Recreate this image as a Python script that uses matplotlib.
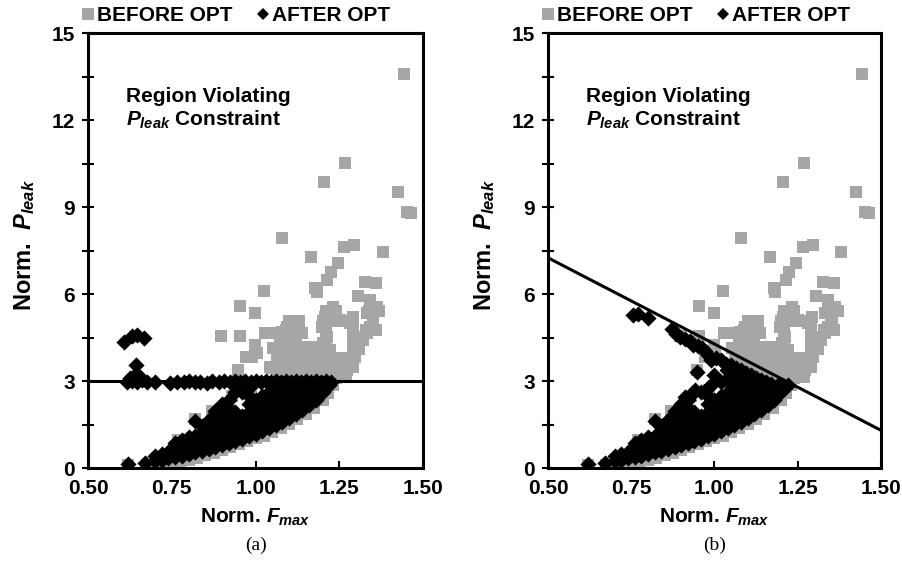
import matplotlib
matplotlib.use("Agg")
import matplotlib.pyplot as plt
from matplotlib.lines import Line2D
import numpy as np

plt.rcParams["font.family"] = "Liberation Sans"
plt.rcParams["font.weight"] = "bold"
plt.rcParams["axes.labelweight"] = "bold"
plt.rcParams["mathtext.fontset"] = "custom"
plt.rcParams["mathtext.it"] = "Liberation Sans:italic:bold"
plt.rcParams["mathtext.rm"] = "Liberation Sans:bold"
plt.rcParams["mathtext.bf"] = "Liberation Sans:bold"

# ---- data (Norm. Fmax, Norm. Pleak) ----
# BEFORE OPT: sparse points above the constraint
before_upper = [
    (1.443, 13.59), (1.268, 10.53), (1.205, 9.85), (1.424, 9.51), (1.452, 8.82), (1.465, 8.78),
    (1.080, 7.94), (1.265, 7.63), (1.295, 7.68), (1.379, 7.46), (1.166, 7.28), (1.246, 7.06),
    (1.224, 6.77), (1.214, 6.48), (1.178, 6.20), (1.182, 6.06), (1.327, 6.43), (1.360, 6.39),
    (1.026, 6.10), (1.305, 5.93), (1.342, 5.79), (1.362, 5.56), (1.232, 5.56), (0.955, 5.57),
    (0.999, 5.33), (1.207, 5.22), (1.292, 5.22), (1.332, 5.33), (1.352, 5.10), (1.342, 4.87),
    (1.332, 4.64), (1.252, 5.10), (1.282, 4.99), (1.123, 4.99), (1.093, 4.87), (1.138, 4.64),
    (1.063, 4.64), (1.028, 4.67), (1.197, 4.87), (1.212, 4.53), (1.202, 4.30), (1.312, 4.53),
    (1.302, 4.18), (1.297, 3.84), (1.282, 3.61), (1.272, 3.38), (1.222, 4.07), (1.222, 3.72),
    (1.153, 4.18), (1.123, 4.07), (1.083, 4.07), (1.063, 3.90), (1.073, 4.36), (1.053, 4.13),
    (1.043, 3.49), (1.063, 3.38), (0.897, 4.55), (0.954, 4.55), (0.999, 4.24), (0.989, 3.84),
    (0.949, 3.38), (1.048, 3.44), (1.128, 4.87), (1.130, 4.68), (1.188, 4.18), (1.003, 3.96),
    (0.973, 3.84), (1.078, 4.70),
]
# BEFORE OPT: dense block above Pleak = 3 (rows of Fmax values at one Pleak)
dense_rows_y = [3.15, 3.47, 3.79, 4.11, 4.43, 4.75, 5.07, 5.40]
dense_rows_x = [
    [1.06, 1.09, 1.12, 1.15, 1.18, 1.21, 1.24, 1.27],
    [1.06, 1.09, 1.12, 1.15, 1.18, 1.21, 1.24, 1.27, 1.29],
    [1.07, 1.10, 1.13, 1.16, 1.19, 1.22, 1.25, 1.28],
    [1.07, 1.10, 1.13, 1.16, 1.19, 1.21, 1.29, 1.31],
    [1.09, 1.12, 1.21, 1.29, 1.32],
    [1.09, 1.12, 1.21, 1.29, 1.33, 1.36],
    [1.10, 1.13, 1.20, 1.23, 1.26, 1.29, 1.35],
    [1.21, 1.24, 1.34, 1.37],
]
# BEFORE OPT: lower edge of the main cloud and a few points hidden under AFTER OPT
before_lower = [
    (0.620, 0.12), (0.675, 0.12), (0.700, 0.10), (0.725, 0.13), (0.750, 0.17), (0.775, 0.22),
    (0.800, 0.28), (0.825, 0.36), (0.850, 0.45), (0.875, 0.53), (0.900, 0.62), (0.925, 0.72),
    (0.950, 0.82), (0.975, 0.93), (1.000, 1.02), (1.025, 1.12), (1.050, 1.24), (1.075, 1.37),
    (1.100, 1.52), (1.125, 1.68), (1.150, 1.86), (1.175, 2.06), (1.200, 2.35), (1.215, 2.60),
    (1.230, 2.85), (1.240, 3.10),
    (0.820, 1.70), (0.870, 1.97), (0.930, 2.48), (0.985, 2.70), (1.050, 2.65), (1.100, 2.62),
    (0.770, 0.95), (0.860, 1.40),
]

# AFTER OPT: main band below the constraint (one list of Pleak per Fmax column)
band_x = [0.62, 0.67, 0.70, 0.72, 0.74, 0.76, 0.78, 0.80, 0.82, 0.84, 0.86, 0.88, 0.90, 0.92, 0.94,
          0.96, 0.98, 1.00, 1.02, 1.04, 1.06, 1.08, 1.10, 1.12, 1.14, 1.16, 1.18, 1.20, 1.22]
band_y = [
    [0.15], [0.17], [0.25, 0.40], [0.29, 0.47], [0.33, 0.55],
    [0.37, 0.67, 0.85],
    [0.43, 0.53, 0.81, 0.95],
    [0.50, 0.67, 0.95, 1.06],
    [0.55, 0.81, 1.09, 1.62],
    [0.60, 0.95, 1.23, 1.46],
    [0.67, 0.81, 1.09, 1.37, 1.65],
    [0.73, 0.95, 1.23, 1.51, 1.79, 1.95],
    [0.80, 1.09, 1.37, 1.65, 1.93, 2.21],
    [0.87, 1.23, 1.51, 1.79, 2.07, 2.35],
    [0.93, 1.09, 1.37, 1.65, 1.93, 2.61],
    [1.00, 1.23, 1.51, 1.79, 2.63],
    [1.10, 1.37, 1.65, 1.93, 2.21, 2.49, 2.77],
    [1.18, 1.51, 1.79, 2.07, 2.35],
    [1.27, 1.37, 1.65, 1.93, 2.21, 2.49],
    [1.37, 1.51, 1.79, 2.07, 2.35, 2.63],
    [1.47, 1.65, 1.93, 2.21, 2.49, 2.77],
    [1.60, 1.79, 2.07, 2.35, 2.63, 2.85],
    [1.72, 1.93, 2.21, 2.49, 2.77],
    [1.87, 2.07, 2.35, 2.63, 2.88],
    [2.00, 2.21, 2.49, 2.77],
    [2.17, 2.35, 2.63, 2.88],
    [2.36, 2.49, 2.77],
    [2.62, 2.88],
    [2.85],
]
# AFTER OPT (a): points pushed onto Pleak = 3, plus a few left above it
after_row_a_x = [0.615, 0.630, 0.645, 0.660, 0.675, 0.700, 0.745, 0.765, 0.785, 0.800, 0.820,
                 0.835, 0.855, 0.870, 0.890, 0.905, 0.925, 0.940, 0.955, 0.970, 0.985, 1.000,
                 1.015, 1.030, 1.045, 1.060, 1.075, 1.090, 1.105, 1.120, 1.135, 1.150, 1.165,
                 1.180, 1.195, 1.210, 1.225]
after_row_a_y = [2.95, 3.00, 2.97, 3.02, 2.95, 2.98, 2.93, 2.98, 2.95, 3.00, 2.96, 2.98, 2.94,
                 3.00, 2.96, 2.99, 2.95, 3.00, 2.96, 2.99, 2.95, 3.00, 2.97, 2.99, 2.95, 3.00,
                 2.96, 2.99, 2.95, 3.00, 2.97, 2.99, 2.95, 3.00, 2.97, 2.99, 2.96]
after_top_a = [(0.608, 4.36), (0.630, 4.55), (0.645, 4.60), (0.668, 4.47), (0.642, 3.55),
               (0.640, 3.20), (0.625, 3.12), (0.655, 3.15)]
# AFTER OPT (b): points pushed under the sloped constraint
after_top_b = [
    (0.756, 5.28), (0.770, 5.32), (0.801, 5.16), (0.871, 4.78), (0.885, 4.62), (0.895, 4.52),
    (0.910, 4.45), (0.926, 4.38), (0.936, 4.24), (0.950, 4.22), (0.962, 4.15), (0.972, 4.02),
    (0.981, 3.90), (0.991, 3.74), (1.005, 3.80), (1.020, 3.72), (1.035, 3.60), (1.050, 3.55),
    (1.065, 3.45), (1.080, 3.38), (1.095, 3.28), (1.110, 3.20), (1.125, 3.12), (1.140, 3.05),
    (1.155, 2.98), (1.170, 2.90), (1.190, 2.85), (1.210, 2.75),
    (0.947, 3.30), (0.941, 2.70), (0.911, 2.46), (1.037, 3.38), (1.040, 3.10), (1.070, 3.15),
    (1.070, 2.95), (1.100, 3.00), (1.100, 2.80), (1.130, 2.85), (1.160, 2.70), (1.020, 2.95),
    (0.990, 2.85), (1.060, 3.30), (1.000, 3.20), (1.080, 3.10), (1.120, 2.98), (1.050, 2.90),
]

constraint_a = 3.0
constraint_b_x = [0.5, 1.5]
constraint_b_y = [7.25, 1.3]

GREY = "#a6a6a6"
SQ = 66
DI = 68

dense = [(x, y) for y, xs in zip(dense_rows_y, dense_rows_x) for x in xs]
before = np.array(before_upper + dense + before_lower)
band = np.array([(x, y) for x, ys in zip(band_x, band_y) for y in ys])
after_a = np.vstack([band, np.column_stack([after_row_a_x, after_row_a_y]), np.array(after_top_a)])
after_b = np.vstack([band, np.array(after_top_b)])

fig = plt.figure(figsize=(9.02, 5.70), dpi=100)
ax_a = fig.add_axes([0.0976, 0.1789, 0.3714, 0.7632])
ax_b = fig.add_axes([0.6075, 0.1789, 0.3692, 0.7632])

for ax, after, cap in [(ax_a, after_a, "(a)"), (ax_b, after_b, "(b)")]:
    ax.scatter(before[:, 0], before[:, 1], s=SQ, marker="s", color=GREY, linewidths=0, zorder=2)
    ax.scatter(after[:, 0], after[:, 1], s=DI, marker="D", color="black", linewidths=0, zorder=3)

    ax.set_xlim(0.5, 1.5)
    ax.set_ylim(0, 15)
    ax.set_xticks([0.5, 0.75, 1.0, 1.25, 1.5])
    ax.set_xticklabels(["0.50", "0.75", "1.00", "1.25", "1.50"])
    ax.set_yticks([0, 3, 6, 9, 12, 15])
    ax.set_yticks([1.5, 4.5, 7.5, 10.5, 13.5], minor=True)
    ax.tick_params(axis="x", direction="in", length=5, width=1.5, pad=8, labelsize=15)
    ax.tick_params(axis="y", which="major", direction="inout", length=9, width=1.5, pad=5, labelsize=15)
    ax.tick_params(axis="y", which="minor", direction="inout", length=8, width=1.5)
    for lab in ax.get_xticklabels() + ax.get_yticklabels():
        lab.set_fontweight("bold")
    for sp in ax.spines.values():
        sp.set_linewidth(2.2)

    ax.set_xlabel(r"Norm. $F_{max}$", fontsize=15, va="center")
    ax.xaxis.set_label_coords(0.5, -0.113)
    ax.set_ylabel(r"Norm.  $P_{leak}$", fontsize=17, va="center")
    ax.yaxis.set_label_coords(-0.19, 0.513)

    ax.text(0.613, 12.62, "Region Violating", fontsize=15, va="baseline")
    ax.text(0.613, 11.79, r"$P_{leak}$ Constraint", fontsize=15, va="baseline")

    handles = [
        Line2D([], [], ls="none", marker="s", markersize=8, color=GREY, markeredgewidth=0),
        Line2D([], [], ls="none", marker="D", markersize=6.5, color="black", markeredgewidth=0),
    ]
    ax.legend(handles, ["BEFORE OPT", "AFTER OPT"], loc="lower left", bbox_to_anchor=(-0.015, 1.018),
              ncol=2, frameon=False, fontsize=15, handlelength=0.5, handletextpad=0.15,
              columnspacing=1.25, borderaxespad=0, borderpad=0)

    ax.text(0.5, -0.178, cap, transform=ax.transAxes, ha="center", va="center",
            fontsize=14, fontweight="normal", family="Liberation Serif")

ax_a.axhline(constraint_a, color="black", lw=2.2, zorder=4)
ax_b.plot(constraint_b_x, constraint_b_y, color="black", lw=2.2, zorder=4, clip_on=True)

fig.savefig("out.png", dpi=100)
